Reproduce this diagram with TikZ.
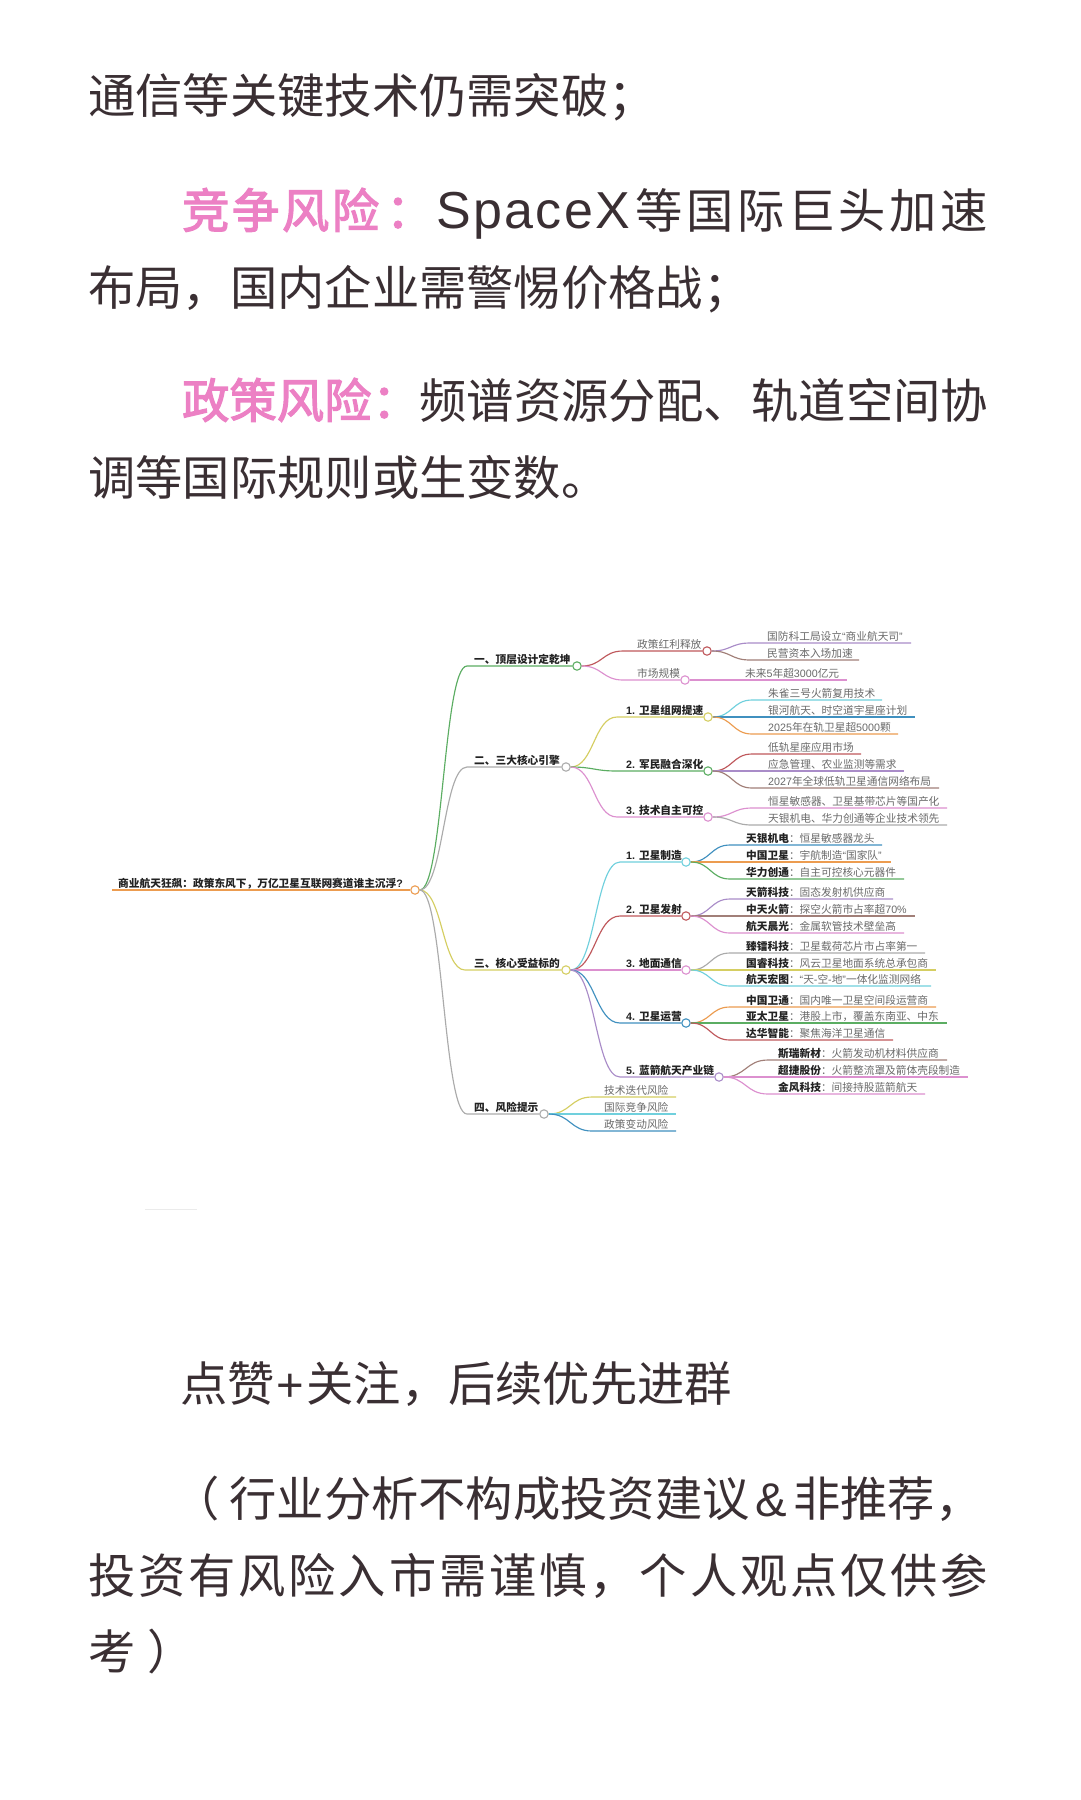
\documentclass[tikz,border=0pt]{standalone}
\usepackage{fontspec}
\usetikzlibrary{calc}
\setmainfont{Noto Sans CJK SC}
\newfontfamily\lat{Liberation Sans}
\newfontfamily\latsp[LetterSpace=4.5]{Liberation Sans}
\newfontfamily\medcjk[FakeBold=2.6]{Noto Sans CJK SC}
\definecolor{ink}{HTML}{3A2F33}
\definecolor{hot}{HTML}{EC80C4}
\definecolor{mgreen}{HTML}{5BAD62}
\definecolor{mgray}{HTML}{ABABAB}
\definecolor{myellow}{HTML}{D5CE62}
\definecolor{morange}{HTML}{EC9C50}
\definecolor{mred}{HTML}{BF585C}
\definecolor{mpink}{HTML}{DC90CF}
\definecolor{mpurple}{HTML}{A98CC8}
\definecolor{mbrown}{HTML}{A17F78}
\definecolor{mcyan}{HTML}{70D0DD}
\definecolor{mblue}{HTML}{4090BF}
\definecolor{head}{HTML}{222222}
\definecolor{soft}{HTML}{6A6A6A}
\makeatletter
\def\jj#1{\jj@#1\@nil}
\def\jj@#1#2{#1\ifx#2\@nil\else\hfil\expandafter\jj@\expandafter#2\fi}
\makeatother
\tikzset{
  bodytext/.style={anchor=base west,inner sep=0pt,text=ink,font=\fontsize{47.3pt}{50pt}\selectfont},
  hottext/.style={bodytext,text=hot,font=\fontsize{47.3pt}{50pt}\medcjk\selectfont},
  hubdot/.style={circle,draw=#1,fill=white,line width=1.1pt,minimum size=8.4pt,inner sep=0pt},
  edge/.style={draw=#1,line width=1.15pt},
  headtext/.style={anchor=base west,inner sep=0pt,text=head,font=\fontsize{10.7pt}{12pt}\selectfont\bfseries},
  leaftext/.style={anchor=base west,inner sep=0pt,text=soft,font=\fontsize{10.7pt}{12pt}\selectfont},
}
\newcount\cn
% curved connector: colour, from-node, bend end, straight end
\newcommand\conn[4]{\draw[edge=#1] let \p1=(#2.east),\p2=(#3) in (\p1) .. controls ({(\x1+\x2)/2},\y1) and ({(\x1+\x2)/2},\y2) .. (\p2) -- (#4);}
% hub: name, colour, parent, line start x, x, y, text x, text
\newcommand\hub[8]{\global\advance\cn by 1
  \coordinate (s\the\cn) at (#4,#6);
  \node[hubdot=#2] (#1) at (#5,#6) {};
  \conn{#2}{#3}{s\the\cn}{#1.west}
  \node[headtext] (t\the\cn) at (#7,#6-2.8) {#8};}
% hub with plain label
\newcommand\phub[8]{\global\advance\cn by 1
  \coordinate (s\the\cn) at (#4,#6);
  \node[hubdot=#2] (#1) at (#5,#6) {};
  \conn{#2}{#3}{s\the\cn}{#1.west}
  \node[leaftext] (t\the\cn) at (#7,#6-2.5) {#8};}
% leaf: colour, parent, start x, y, end x, text x, text
\newcommand\lf[7]{\global\advance\cn by 1
  \coordinate (s\the\cn) at (#3,#4);
  \coordinate (e\the\cn) at (#5,#4);
  \conn{#1}{#2}{s\the\cn}{e\the\cn}
  \node[leaftext] (t\the\cn) at (#6,#4-2.4) {#7};}
\newcommand\co[2]{{\bfseries\color{head}#1}：#2}
\begin{document}
\begin{tikzpicture}[x=1pt,y=-1pt]
\useasboundingbox (0,0) rectangle (1080,1800);
\fill[white] (0,0) rectangle (1080,1800);
% body text
\node[bodytext] (l1) at (88,113) {通信等关键技术仍需突破；};
\node[hottext] (l2a) at (182,228) {\hbox to 197pt{\jj{竞争风险}}\kern7pt：};
\node[bodytext] (l2b) at (436,228) {\fontsize{52pt}{54pt}\latsp SpaceX};
\node[bodytext] (l2c) at (635,228) {\hbox to 353pt{\jj{等国际巨头加速}}};
\node[bodytext] (l3) at (88,305) {布局，国内企业需警惕价格战；};
\node[hottext] (l4a) at (182,418) {政策风险\kern1pt：};
\node[bodytext] (l4b) at (419,418) {\hbox to 569pt{\jj{频谱资源分配、轨道空间协}}};
\node[bodytext] (l5) at (88,495) {调等国际规则或生变数。};
\node[bodytext] (l6) at (180,1401) {点赞\kern2pt{\lat +}\kern2pt 关注，后续优先进群};
\node[bodytext] (l7) at (172,1516) {（\kern10pt 行业分析不构成投资建议\kern6pt{\lat\&}\kern6pt 非推荐，};
\node[bodytext] (l8) at (88,1593) {\hbox to 900pt{\jj{投资有风险入市需谨慎，个人观点仅供参}}};
\node[bodytext] (l9) at (88,1669) {考\kern12pt）};
% faint mark below the diagram
\coordinate (fa) at (145,1209);
\coordinate (fb) at (197,1209);
\draw[black!8,line width=.8pt] (fa) -- (fb);
% root
\coordinate (rs) at (112,890);
\node[hubdot=morange] (root) at (415,890) {};
\draw[edge=morange] (rs) -- (root.west);
\node[headtext] (rt) at (118,887.2) {商业航天狂飙：政策东风下，万亿卫星互联网赛道谁主沉浮{\lat ?}};
% branch 1
\hub{A}{mgreen}{root}{467}{577}{666}{474}{一、顶层设计定乾坤}
\phub{A1}{mred}{A}{623}{707}{651}{637}{政策红利释放}
\lf{mpurple}{A1}{750}{643}{911}{767}{国防科工局设立{\lat “}商业航天司{\lat ”}}
\lf{mbrown}{A1}{750}{660}{859}{767}{民营资本入场加速}
\phub{A2}{mpink}{A}{623}{685}{680}{637}{市场规模}
\lf{mpink}{A2}{695}{680}{847}{745}{未来{\lat 5}年超{\lat 3000}亿元}
% branch 2
\hub{B}{mgray}{root}{467}{566}{767}{474}{二、三大核心引擎}
\hub{B1}{myellow}{B}{617}{708}{717}{626}{{\lat 1. }卫星组网提速}
\lf{mcyan}{B1}{752}{700}{882}{768}{朱雀三号火箭复用技术}
\lf{mblue}{B1}{752}{717}{915}{768}{银河航天、时空道宇星座计划}
\lf{morange}{B1}{752}{734}{898}{768}{{\lat 2025}年在轨卫星超{\lat 5000}颗}
\hub{B2}{mgreen}{B}{617}{708}{771}{626}{{\lat 2. }军民融合深化}
\lf{mred}{B2}{752}{754}{861}{768}{低轨星座应用市场}
\lf{mpurple}{B2}{752}{771}{904}{768}{应急管理、农业监测等需求}
\lf{mbrown}{B2}{752}{788}{939}{768}{{\lat 2027}年全球低轨卫星通信网络布局}
\hub{B3}{mpink}{B}{617}{708}{817}{626}{{\lat 3. }技术自主可控}
\lf{mpink}{B3}{752}{808}{947}{768}{恒星敏感器、卫星基带芯片等国产化}
\lf{mgray}{B3}{752}{825}{947}{768}{天银机电、华力创通等企业技术领先}
% branch 3
\hub{C}{myellow}{root}{465}{566}{970}{474}{三、核心受益标的}
\hub{C1}{mcyan}{C}{620}{686}{862}{626}{{\lat 1. }卫星制造}
\lf{mblue}{C1}{730}{845}{882}{746}{\co{天银机电}{恒星敏感器龙头}}
\lf{morange}{C1}{730}{862}{891}{746}{\co{中国卫星}{宇航制造{\lat “}国家队{\lat ”}}}
\lf{mgreen}{C1}{730}{879}{904}{746}{\co{华力创通}{自主可控核心元器件}}
\hub{C2}{mred}{C}{620}{686}{916}{626}{{\lat 2. }卫星发射}
\lf{mpurple}{C2}{730}{899}{893}{746}{\co{天箭科技}{固态发射机供应商}}
\lf{mbrown}{C2}{730}{916}{915}{746}{\co{中天火箭}{探空火箭市占率超{\lat 70\%}}}
\lf{mpink}{C2}{730}{933}{904}{746}{\co{航天晨光}{金属软管技术壁垒高}}
\hub{C3}{mpink}{C}{620}{686}{970}{626}{{\lat 3. }地面通信}
\lf{mgray}{C3}{730}{953}{925}{746}{\co{臻镭科技}{卫星载荷芯片市占率第一}}
\lf{myellow}{C3}{730}{970}{936}{746}{\co{国睿科技}{风云卫星地面系统总承包商}}
\lf{mcyan}{C3}{730}{986}{931}{746}{\co{航天宏图}{{\lat “}天{\lat -}空{\lat -}地{\lat ”}一体化监测网络}}
\hub{C4}{mblue}{C}{620}{686}{1023}{626}{{\lat 4. }卫星运营}
\lf{morange}{C4}{730}{1007}{936}{746}{\co{中国卫通}{国内唯一卫星空间段运营商}}
\lf{mgreen}{C4}{730}{1023}{947}{746}{\co{亚太卫星}{港股上市，覆盖东南亚、中东}}
\lf{mred}{C4}{730}{1040}{893}{746}{\co{达华智能}{聚焦海洋卫星通信}}
\hub{C5}{mpurple}{C}{620}{719}{1077}{626}{{\lat 5. }蓝箭航天产业链}
\lf{mbrown}{C5}{768}{1060}{947}{778}{\co{斯瑞新材}{火箭发动机材料供应商}}
\lf{mpink}{C5}{768}{1077}{968}{778}{\co{超捷股份}{火箭整流罩及箭体壳段制造}}
\lf{mpink}{C5}{768}{1094}{925}{778}{\co{金风科技}{间接持股蓝箭航天}}
% branch 4
\hub{D}{mgray}{root}{467}{544}{1114}{474}{四、风险提示}
\lf{myellow}{D}{592}{1097}{676}{604}{技术迭代风险}
\lf{mcyan}{D}{592}{1114}{676}{604}{国际竞争风险}
\lf{mblue}{D}{592}{1131}{676}{604}{政策变动风险}
\end{tikzpicture}
\end{document}
